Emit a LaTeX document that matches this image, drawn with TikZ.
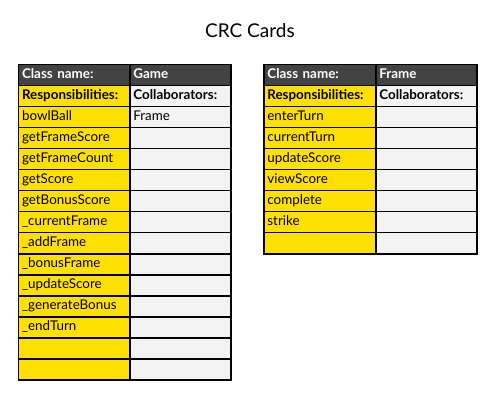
\documentclass[tikz,border=0pt]{standalone}
\usepackage{fontspec}
\setmainfont{Lato}
\definecolor{hdr}{HTML}{434343}
\definecolor{resp}{HTML}{FFE000}
\definecolor{collab}{HTML}{F3F3F3}
\begin{document}
\begin{tikzpicture}[x=1pt,y=-1pt,
  cell/.style={draw=black, line width=1.2pt, anchor=north west, minimum height=21pt,
    inner xsep=3.5pt, inner ysep=0pt, align=left, text height=10pt, text depth=3pt,
    font=\fontsize{13.4pt}{15pt}\selectfont},
  lcol/.style={cell, text width=104.4pt},
  rcol/.style={cell, text width=94.0pt},
  hdrcell/.style={fill=hdr, text=white, font=\fontsize{13.4pt}{15pt}\selectfont\bfseries},
  respcell/.style={fill=resp},
  colcell/.style={fill=collab},
  boldcell/.style={font=\fontsize{13.4pt}{15pt}\selectfont\bfseries},
  title/.style={font=\fontsize{19pt}{21pt}\selectfont}]
\useasboundingbox (0,0) rectangle (500,403);
\node[title] (title) at (250,31) {CRC Cards};
% Game card
\node[lcol, hdrcell] (g-h-l) at (17.9,64.3) {Class name:};
\node[rcol, hdrcell] (g-h-r) at (129.3,64.3) {Game};
\node[lcol, respcell, boldcell] (g-0-l) at (17.9,85.3) {Responsibilities:};
\node[rcol, colcell, boldcell] (g-0-r) at (129.3,85.3) {Collaborators:};
\foreach \t/\c [count=\i] in {bowlBall/Frame, getFrameScore/, getFrameCount/, getScore/, getBonusScore/,
  \_currentFrame/, \_addFrame/, \_bonusFrame/, \_updateScore/, \_generateBonus/, \_endTurn/, /, /}{
  \node[lcol, respcell] (g-\i-l) at (17.9,85.3+21*\i) {\t};
  \node[rcol, colcell] (g-\i-r) at (129.3,85.3+21*\i) {\c};
}
% Frame card
\node[lcol, hdrcell] (f-h-l) at (263.3,64.3) {Class name:};
\node[rcol, hdrcell] (f-h-r) at (375.3,64.3) {Frame};
\node[lcol, respcell, boldcell] (f-0-l) at (263.3,85.3) {Responsibilities:};
\node[rcol, colcell, boldcell] (f-0-r) at (375.3,85.3) {Collaborators:};
\foreach \t [count=\i] in {enterTurn, currentTurn, updateScore, viewScore, complete, strike, {}}{
  \node[lcol, respcell] (f-\i-l) at (263.3,85.3+21*\i) {\t};
  \node[rcol, colcell] (f-\i-r) at (375.3,85.3+21*\i) {};
}
\end{tikzpicture}
\end{document}
